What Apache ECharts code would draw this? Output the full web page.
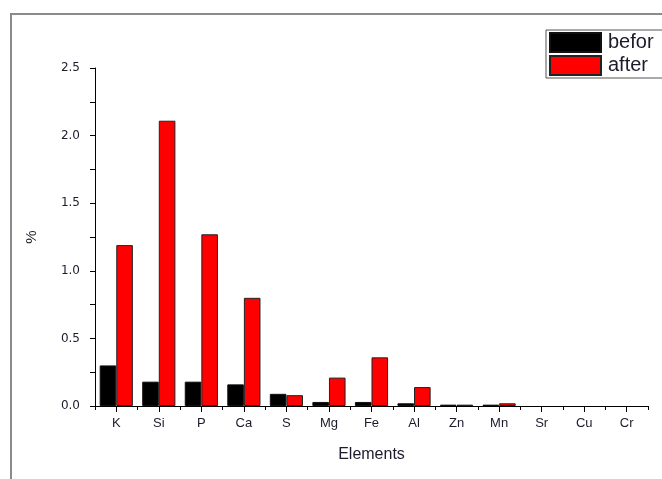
<!DOCTYPE html>
<html>
<head>
<meta charset="utf-8">
<script src="https://cdn.jsdelivr.net/npm/echarts@6/dist/echarts.min.js"></script>
<style>
  html, body { margin: 0; padding: 0; background: #fff; }
  #chart { width: 662px; height: 479px; }
</style>
</head>
<body>
<div id="chart"></div>
<script>
// Element content (%) before and after treatment
const elements = ['K', 'Si', 'P', 'Ca', 'S', 'Mg', 'Fe', 'Al', 'Zn', 'Mn', 'Sr', 'Cu', 'Cr'];
const beforeValues = [0.30, 0.18, 0.18, 0.16, 0.09, 0.03, 0.03, 0.02, 0.01, 0.01, 0, 0, 0];
const afterValues = [1.19, 2.11, 1.27, 0.80, 0.08, 0.21, 0.36, 0.14, 0.01, 0.02, 0, 0, 0];
const yTicks = [0, 0.5, 1.0, 1.5, 2.0, 2.5];

const FONT = 'Liberation Sans, Arial, sans-serif';
const WIDE_FONT = 'DejaVu Sans, Liberation Sans, sans-serif';
const TEXT = '#1b1b2b';

// zero-height bars get no outline so they leave no stray line on the axis
const toItems = values => values.map(v => v === 0 ? { value: v, itemStyle: { borderWidth: 0 } } : v);

const chart = echarts.init(document.getElementById('chart'));
chart.setOption({
  animation: false,
  backgroundColor: '#fff',
  graphic: [{
    type: 'rect',
    shape: { x: 11, y: 14, width: 720, height: 520 },
    style: { fill: 'none', stroke: '#8a8a8a', lineWidth: 2 },
    silent: true
  }],
  legend: {
    orient: 'vertical',
    left: 546,
    top: 30,
    icon: 'rect',
    itemWidth: 51,
    itemHeight: 19,
    itemGap: 2,
    padding: [2, 14, 2, 3],
    backgroundColor: '#fff',
    borderColor: '#555',
    borderWidth: 1,
    textStyle: { fontFamily: FONT, fontSize: 20, color: TEXT, padding: [0, 0, 0, 2] },
    data: ['befor', 'after']
  },
  grid: { left: 95, right: 14, top: 68, bottom: 73, containLabel: false },
  xAxis: [{
    type: 'category',
    data: elements,
    name: 'Elements',
    nameLocation: 'middle',
    nameGap: 41,
    nameTextStyle: { fontFamily: FONT, fontSize: 16, color: TEXT },
    axisLine: { lineStyle: { color: '#000', width: 1 } },
    axisTick: { show: true, interval: 0, length: 4, lineStyle: { color: '#000' } },
    axisLabel: { interval: 0, fontFamily: FONT, fontSize: 13, color: TEXT, margin: 11 }
  }, {
    type: 'category',
    data: elements,
    position: 'bottom',
    axisLine: { show: false },
    axisTick: { show: true, alignWithLabel: true, interval: 0, length: 6, lineStyle: { color: '#000' } },
    axisLabel: { show: false }
  }],
  yAxis: {
    type: 'value',
    min: 0,
    max: 2.5,
    interval: 0.5,
    name: '%',
    nameLocation: 'middle',
    nameGap: 56,
    nameRotate: 90,
    nameTextStyle: { fontFamily: FONT, fontSize: 15, color: TEXT },
    axisLine: { show: true, lineStyle: { color: '#000', width: 1 } },
    axisTick: { show: true, length: 5, lineStyle: { color: '#000' } },
    minorTick: { show: true, splitNumber: 2, length: 5, lineStyle: { color: '#000' } },
    splitLine: { show: false },
    axisLabel: {
      fontFamily: WIDE_FONT, fontSize: 12, color: TEXT, margin: 15,
      formatter: v => yTicks.includes(v) ? v.toFixed(1) : ''
    }
  },
  series: [{
    name: 'befor',
    type: 'bar',
    data: toItems(beforeValues),
    barGap: '0%',
    barCategoryGap: '22%',
    itemStyle: { color: '#000', borderColor: '#111', borderWidth: 1 }
  }, {
    name: 'after',
    type: 'bar',
    data: toItems(afterValues),
    barGap: '0%',
    barCategoryGap: '22%',
    itemStyle: { color: '#ff0000', borderColor: '#222', borderWidth: 1 }
  }]
});
</script>
</body>
</html>
